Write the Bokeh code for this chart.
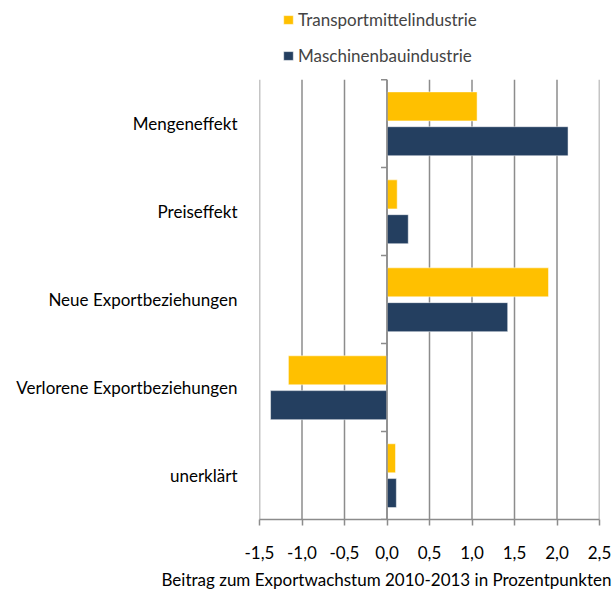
from bokeh.plotting import figure
from bokeh.models import (Range1d, FixedTicker, CustomJSTickFormatter,
                          Title, Legend, LegendItem, ColumnDataSource)
from bokeh.embed import file_html
from bokeh.resources import INLINE

categories = ["Mengeneffekt", "Preiseffekt", "Neue Exportbeziehungen",
              "Verlorene Exportbeziehungen", "unerklärt"]
transport = [1.06, 0.12, 1.90, -1.16, 0.10]
maschinenbau = [2.13, 0.25, 1.42, -1.37, 0.11]
x_ticks = [-1.5, -1.0, -0.5, 0.0, 0.5, 1.0, 1.5, 2.0, 2.5]
series_names = ["Transportmittelindustrie", "Maschinenbauindustrie"]
x_title = "Beitrag zum Exportwachstum 2010-2013 in Prozentpunkten"

FONT = "Lato"
FS = "17px"
GRAY = "#8c8c8c"
YELLOW = "#FFC000"
NAVY = "#243F60"

n = len(categories)
pos = [n - i - 0.5 for i in range(n)]          # category centres, top to bottom
Y_TOP = n * 520 / (520 - 79.3)                   # extra room above for the legend

source = ColumnDataSource(dict(
    cat=categories, t=transport, m=maschinenbau,
    yt=[v + 0.196 for v in pos], ym=[v - 0.2 for v in pos]))

p = figure(width=614, height=594, output_backend="svg", toolbar_location=None,
           x_range=Range1d(x_ticks[0], x_ticks[-1]), y_range=Range1d(0, Y_TOP),
           min_border_left=259, min_border_right=15, min_border_top=0, min_border_bottom=74)

p.outline_line_color = None
p.background_fill_color = "white"
p.border_fill_color = "white"
p.xgrid.grid_line_color = None
p.ygrid.grid_line_color = None

# vertical grid lines spanning only the category area
p.segment(x0=x_ticks, y0=[0] * len(x_ticks), x1=x_ticks, y1=[n] * len(x_ticks),
          line_color=GRAY, line_width=1.5)

r_t = p.hbar(y="yt", right="t", left=0, height=0.33, source=source,
             fill_color=YELLOW, line_color="white", line_width=0.5)
r_m = p.hbar(y="ym", right="m", left=0, height=0.33, source=source,
             fill_color=NAVY, line_color="white", line_width=0.5)

# vertical axis line at zero with category separator ticks
bounds = list(range(n + 1))
p.segment(x0=[0], y0=[0], x1=[0], y1=[n], line_color=GRAY, line_width=1.5)
p.ray(x=[0] * len(bounds), y=bounds, length=6, length_units="screen", angle=3.14159265,
      line_color=GRAY, line_width=1.5)

# x axis
p.xaxis.ticker = FixedTicker(ticks=x_ticks)
p.xaxis.formatter = CustomJSTickFormatter(code="return tick.toFixed(1).replace('.', ',')")
p.xaxis.axis_line_color = GRAY
p.xaxis.axis_line_width = 1.5
p.xaxis.major_tick_line_color = GRAY
p.xaxis.major_tick_line_width = 1.5
p.xaxis.major_tick_out = 6
p.xaxis.major_tick_in = 0
p.xaxis.minor_tick_line_color = None
p.xaxis.major_label_standoff = 20
p.xaxis.major_label_text_font = FONT
p.xaxis.major_label_text_font_size = FS
p.xaxis.major_label_text_color = "black"

# y axis (category labels)
p.yaxis.ticker = FixedTicker(ticks=pos)
p.yaxis.major_label_overrides = {v: c for v, c in zip(pos, categories)}
p.yaxis.axis_line_color = None
p.yaxis.major_tick_line_color = None
p.yaxis.minor_tick_line_color = None
p.yaxis.major_label_standoff = 16
p.yaxis.major_label_text_font = FONT
p.yaxis.major_label_text_font_size = FS
p.yaxis.major_label_text_color = "black"

# x title
p.add_layout(Title(text=x_title, align="left", offset=-98, standoff=10,
                   text_font=FONT, text_font_size=FS, text_font_style="normal",
                   text_color="black"), "below")

legend = Legend(items=[LegendItem(label=series_names[0], renderers=[r_t]),
                       LegendItem(label=series_names[1], renderers=[r_m])],
                location=(23, 453), orientation="vertical",
                glyph_width=12, glyph_height=11, label_height=20, spacing=15,
                label_standoff=4, padding=0, margin=0,
                border_line_color=None, background_fill_alpha=0,
                label_text_font=FONT, label_text_font_size=FS)
p.add_layout(legend, "center")

open("out.html", "w").write(file_html(p, INLINE))
